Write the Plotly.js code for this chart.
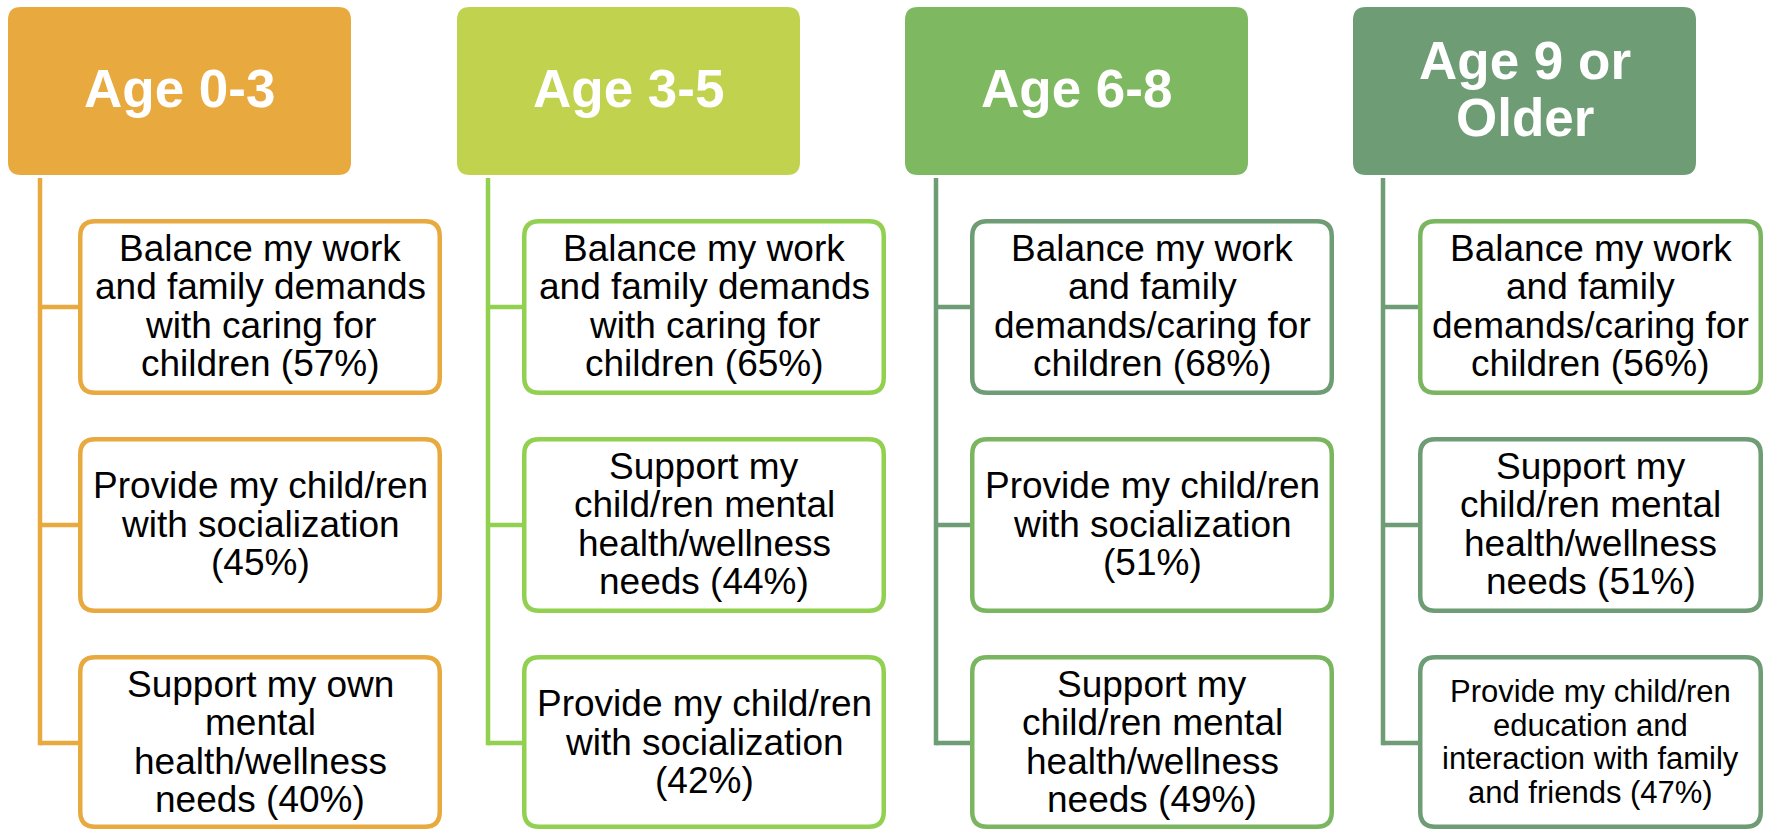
<!DOCTYPE html>
<html>
<head>
<meta charset="utf-8">
<script src="https://cdn.plot.ly/plotly-3.0.1.min.js"></script>
<style>
  html, body { margin: 0; padding: 0; background: #ffffff; overflow: hidden; }
  #chart { width: 1767px; height: 829px; }
</style>
</head>
<body>
<div id="chart"></div>
<script>
// ---------------- DATA ----------------
const ageGroups = ["Age 0-3", "Age 3-5", "Age 6-8", "Age 9 or<br>Older"];

const needsAge0to3 = [
  "Balance my work<br>and family demands<br>with caring for<br>children",
  "Provide my child/ren<br>with socialization<br>",
  "Support my own<br>mental<br>health/wellness<br>needs"
];
const pctAge0to3 = [57, 45, 40];

const needsAge3to5 = [
  "Balance my work<br>and family demands<br>with caring for<br>children",
  "Support my<br>child/ren mental<br>health/wellness<br>needs",
  "Provide my child/ren<br>with socialization<br>"
];
const pctAge3to5 = [65, 44, 42];

const needsAge6to8 = [
  "Balance my work<br>and family<br>demands/caring for<br>children",
  "Provide my child/ren<br>with socialization<br>",
  "Support my<br>child/ren mental<br>health/wellness<br>needs"
];
const pctAge6to8 = [68, 51, 49];

const needsAge9plus = [
  "Balance my work<br>and family<br>demands/caring for<br>children",
  "Support my<br>child/ren mental<br>health/wellness<br>needs",
  "Provide my child/ren<br>education and<br>interaction with family<br>and friends"
];
const pctAge9plus = [56, 51, 47];

const allNeeds = [needsAge0to3, needsAge3to5, needsAge6to8, needsAge9plus];
const allPct = [pctAge0to3, pctAge3to5, pctAge6to8, pctAge9plus];

// ---------------- STYLE / LAYOUT ----------------
const W = 1767, H = 829;
const FONT = "Liberation Sans, Arial, Helvetica, sans-serif";
const ORANGE = "#E8A93E", YGREEN = "#C0D24E", GREEN = "#7EB861", GGREEN = "#6E9C75", BGREEN = "#92D050", MGREEN = "#7AB65F";

const headerFill = [ORANGE, YGREEN, GREEN, GGREEN];
const treeLine = [ORANGE, BGREEN, GGREEN, GGREEN];
const boxBorder = [
  [ORANGE, ORANGE, ORANGE],
  [BGREEN, BGREEN, BGREEN],
  [GGREEN, MGREEN, MGREEN],
  [MGREEN, GGREEN, GGREEN]
];
const itemFontSize = [[37, 37, 37], [37, 37, 37], [37, 37, 37], [37, 37, 31]];
const itemLineGap = [[38.5, 38.5, 38.5], [38.5, 38.5, 38.5], [38.5, 38.5, 38.5], [38.5, 38.5, 33.5]];

const headerLeft = [8, 457, 905, 1353];
const headerW = 343, headerTop = 7, headerBottom = 175, headerR = 13;
const lineX = [40, 488, 936, 1383];
const boxLeft = [78, 522, 970, 1418];
const boxW = [364, 364, 364, 345];
const boxTop0 = 219, boxPitch = 218, boxH = 176, boxBottomMax = 829, boxR = 15;
const LW = 4.5;

function roundRect(x0, y0, x1, y1, r) {
  return `M ${x0 + r},${y0} H ${x1 - r} Q ${x1},${y0} ${x1},${y0 + r} V ${y1 - r} Q ${x1},${y1} ${x1 - r},${y1} H ${x0 + r} Q ${x0},${y1} ${x0},${y1 - r} V ${y0 + r} Q ${x0},${y0} ${x0 + r},${y0} Z`;
}

const shapes = [];
const annotations = [];

function addLines(text, cx, cy, size, gap, color, bold) {
  const lines = text.split("<br>");
  const n = lines.length;
  lines.forEach((ln, i) => {
    annotations.push({
      x: cx, y: cy + (i - (n - 1) / 2) * gap,
      xref: "x", yref: "y",
      text: bold ? "<b>" + ln + "</b>" : ln,
      showarrow: false, xanchor: "center", yanchor: "middle",
      font: { family: FONT, size: size, color: color }
    });
  });
}

ageGroups.forEach((g, c) => {
  // header box
  const hx0 = headerLeft[c], hx1 = headerLeft[c] + headerW;
  shapes.push({
    type: "path", xref: "x", yref: "y",
    path: roundRect(hx0, headerTop, hx1, headerBottom, headerR),
    fillcolor: headerFill[c], line: { width: 0 }, layer: "below"
  });
  addLines(g, (hx0 + hx1) / 2, 88.5, 53, 57, "#ffffff", true);

  const needs = allNeeds[c];
  const pcts = allPct[c];
  let lastMid = 0;
  needs.forEach((label, i) => {
    const top = boxTop0 + i * boxPitch;
    const bottom = Math.min(top + boxH, boxBottomMax);
    const mid = top + boxH / 2;
    lastMid = mid;
    const x0 = boxLeft[c], x1 = boxLeft[c] + boxW[c];
    // connector
    shapes.push({
      type: "line", xref: "x", yref: "y",
      x0: lineX[c], x1: x0 + LW / 2, y0: mid, y1: mid,
      line: { color: treeLine[c], width: LW }
    });
    // box
    shapes.push({
      type: "path", xref: "x", yref: "y",
      path: roundRect(x0 + LW / 2, top + LW / 2, x1 - LW / 2, bottom - LW / 2, boxR),
      fillcolor: "#ffffff", line: { color: boxBorder[c][i], width: LW }
    });
    const full = label + (label.endsWith("<br>") ? "" : " ") + "(" + pcts[i] + "%)";
    addLines(full, (x0 + x1) / 2, mid - 1, itemFontSize[c][i], itemLineGap[c][i], "#000000", false);
  });
  // vertical tree line
  shapes.push({
    type: "line", xref: "x", yref: "y",
    x0: lineX[c], x1: lineX[c], y0: headerBottom + 3, y1: lastMid + LW / 2,
    line: { color: treeLine[c], width: LW }
  });
});

const layout = {
  width: W, height: H,
  margin: { l: 0, r: 0, t: 0, b: 0, pad: 0 },
  paper_bgcolor: "#ffffff", plot_bgcolor: "#ffffff",
  xaxis: { range: [0, W], visible: false, fixedrange: true },
  yaxis: { range: [H, 0], visible: false, fixedrange: true },
  showlegend: false,
  shapes: shapes,
  annotations: annotations
};

Plotly.newPlot("chart", [], layout, { displayModeBar: false, staticPlot: true });
</script>
</body>
</html>
